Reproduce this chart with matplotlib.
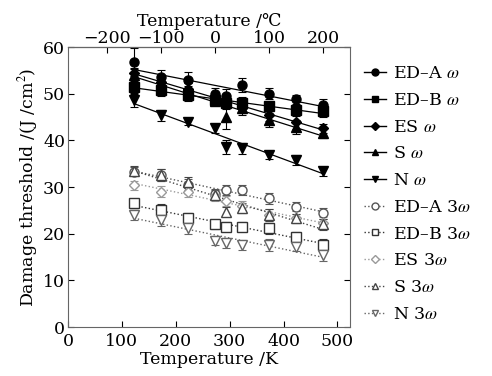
import numpy as np
import matplotlib.pyplot as plt

plt.rcParams['font.family'] = ['DejaVu Serif']
plt.rcParams['mathtext.fontset'] = 'stix'

# temperatures (K)
temps = [123, 173, 223, 273, 293, 323, 373, 423, 473]

# fundamental (omega) thresholds, J/cm^2
eda_w = [56.8, 53.6, 52.9, 50.0, 49.5, 51.8, 50.0, 48.8, 47.6]
edb_w = [51.5, 50.8, 49.7, 48.6, 48.0, 48.0, 47.3, 46.4, 46.3]
es_w = [54.4, 52.5, 51.0, 49.0, 48.5, 47.0, 45.4, 44.0, 42.6]
s_w = [54.0, 52.0, 50.5, 48.5, 45.0, 47.0, 44.3, 42.9, 41.5]
n_w = [48.6, 45.4, 44.0, 42.6, 38.6, 38.3, 36.8, 35.8, 33.4]

# third harmonic (3 omega) thresholds
eda_3w = [33.3, 32.6, 30.5, 28.6, 29.4, 29.4, 27.6, 25.8, 24.4]
edb_3w = [26.5, 25.1, 23.3, 22.0, 21.5, 21.5, 21.2, 19.3, 17.6]
es_3w = [30.4, 29.0, 29.0, 28.0, 27.0, 26.0, 24.0, 23.3, 22.4]
s_3w = [33.5, 32.6, 31.0, 28.3, 24.7, 25.5, 24.0, 23.3, 22.0]
n_3w = [24.0, 22.9, 21.2, 18.5, 18.0, 17.6, 17.6, 17.2, 15.4]

# error bars
err_eda_w = [3.0, 1.5, 1.8, 1.2, 1.5, 1.5, 1.2, 1.0, 1.2]
err_edb_w = [1.5, 1.2, 1.2, 1.0, 1.2, 1.2, 1.0, 1.2, 1.2]
err_es_w = [1.2, 1.2, 1.2, 1.2, 1.2, 1.2, 1.2, 1.5, 1.0]
err_s_w = [1.2, 1.2, 1.2, 1.0, 2.5, 1.5, 1.5, 1.5, 1.0]
err_n_w = [1.5, 1.2, 0.8, 1.0, 1.5, 1.2, 0.8, 1.0, 1.0]
err_3w = [1.0, 1.2, 1.2, 1.0, 1.0, 1.0, 1.2, 1.0, 1.2]

series_w = [
    ('ED\u2013A $\\omega$', eda_w, err_eda_w, 'o'),
    ('ED\u2013B $\\omega$', edb_w, err_edb_w, 's'),
    ('ES $\\omega$', es_w, err_es_w, 'D'),
    ('S $\\omega$', s_w, err_s_w, '^'),
    ('N $\\omega$', n_w, err_n_w, 'v'),
]
series_3w = [
    ('ED\u2013A 3$\\omega$', eda_3w, 'o', '#555555'),
    ('ED\u2013B 3$\\omega$', edb_3w, 's', '#333333'),
    ('ES 3$\\omega$', es_3w, 'D', '#999999'),
    ('S 3$\\omega$', s_3w, '^', '#444444'),
    ('N 3$\\omega$', n_3w, 'v', '#666666'),
]

fig = plt.figure(figsize=(4.92, 3.76), dpi=100)
ax = fig.add_axes([0.138, 0.130, 0.573, 0.745])

t = np.array(temps)
handles = []
for label, vals, err, mk in series_w:
    ms = 6.5 if mk != 'D' else 5.5
    ax.errorbar(temps, vals, yerr=err, fmt=mk, color='black', ms=ms,
                capsize=3, elinewidth=0.8, capthick=0.8)
    k, b = np.polyfit(t, vals, 1)
    ax.plot(t[[0, -1]], k * t[[0, -1]] + b, '-', color='black', lw=0.9)
    h, = ax.plot([], [], '-', marker=mk, color='black', ms=ms - 1.5, lw=1.0)
    handles.append((h, label))

for label, vals, mk, c in series_3w:
    ms = 6.5 if mk != 'D' else 5.5
    ax.errorbar(temps, vals, yerr=err_3w, fmt=mk, color=c, mfc='white',
                mec=c, ms=ms, capsize=3, elinewidth=0.8, capthick=0.8)
    k, b = np.polyfit(t, vals, 1)
    ax.plot(t[[0, -1]], k * t[[0, -1]] + b, ':', color=c, lw=1.0)
    h, = ax.plot([], [], ':', marker=mk, color=c, mfc='white', mec=c,
                 ms=ms - 1.5, lw=1.0)
    handles.append((h, label))

fs = 12.5
ax.set_xlim(0, 523)
ax.set_ylim(0, 60)
ax.set_xticks([0, 100, 200, 300, 400, 500])
ax.set_yticks([0, 10, 20, 30, 40, 50, 60])
ax.tick_params(direction='in', labelsize=fs, right=True, length=4, pad=2)
ax.tick_params(axis='x', pad=4)
ax.set_xlabel('Temperature /K', fontsize=fs, labelpad=1)
ax.set_ylabel('Damage threshold /(J /cm$^2$)', fontsize=fs, labelpad=2)
for sp in ax.spines.values():
    sp.set_color('#666666')

top = ax.secondary_xaxis('top', functions=(lambda x: x - 273.15, lambda x: x + 273.15))
top.set_xticks([-200, -100, 0, 100, 200])
top.tick_params(direction='in', labelsize=fs, length=4, pad=0)
top.set_xticklabels(['\u2212200', '\u2212100', '0', '100', '200'])
top.set_xlabel('Temperature /\u2103', fontsize=fs, labelpad=3)

ax.set_xticklabels(['0', '100', '200', '300', '400', '500'])
ax.set_yticklabels(['0', '10', '20', '30', '40', '50', '60'])

fig.legend([h for h, _ in handles], [l for _, l in handles],
           loc='upper left', bbox_to_anchor=(0.725, 0.845), frameon=False,
           fontsize=fs, handlelength=1.3, handletextpad=0.4,
           labelspacing=0.56, borderaxespad=0)

fig.savefig('out.png', dpi=100)
